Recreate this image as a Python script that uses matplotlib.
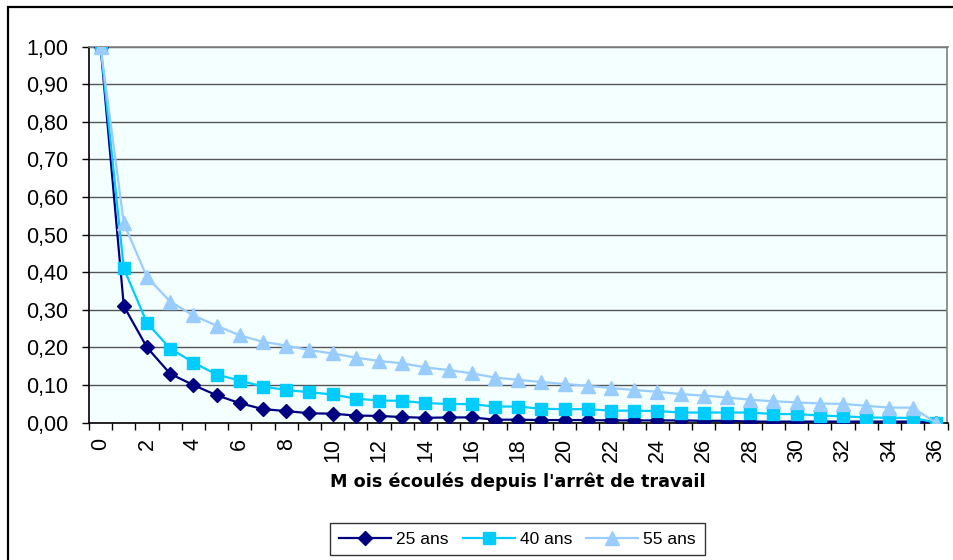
import matplotlib

matplotlib.use("Agg")

import matplotlib.pyplot as plt
from matplotlib.patches import Rectangle
from matplotlib.ticker import FixedLocator, FuncFormatter, NullFormatter

plt.rcParams["font.family"] = ["Liberation Sans", "DejaVu Sans"]

# Months elapsed since work stoppage, and share still off work per age group
mois = list(range(37))
ans_25 = [1.00, 0.31, 0.20, 0.13, 0.10, 0.073, 0.052, 0.036, 0.031, 0.025, 0.024,
          0.019, 0.018, 0.015, 0.013, 0.014, 0.014, 0.008, 0.008, 0.007, 0.007,
          0.007, 0.006, 0.006, 0.006, 0.006, 0.005, 0.005, 0.003, 0.003, 0.003,
          0.003, 0.003, 0.003, 0.003, 0.003, 0.0]
ans_40 = [1.00, 0.41, 0.265, 0.197, 0.16, 0.128, 0.112, 0.096, 0.087, 0.081, 0.075,
          0.064, 0.059, 0.058, 0.052, 0.05, 0.049, 0.043, 0.043, 0.037, 0.036,
          0.036, 0.032, 0.032, 0.031, 0.027, 0.027, 0.027, 0.027, 0.023, 0.023,
          0.019, 0.017, 0.014, 0.013, 0.013, 0.0]
ans_55 = [1.00, 0.53, 0.387, 0.322, 0.285, 0.258, 0.232, 0.215, 0.205, 0.193, 0.184,
          0.173, 0.164, 0.158, 0.147, 0.14, 0.131, 0.12, 0.114, 0.108, 0.103,
          0.098, 0.092, 0.087, 0.082, 0.076, 0.072, 0.067, 0.061, 0.057, 0.054,
          0.051, 0.05, 0.045, 0.04, 0.04, 0.0]
x_labels = [str(m) for m in mois[::2]]

W, H = 954, 560
fig = plt.figure(figsize=(W / 100, H / 100), dpi=100)
fig.patch.set_facecolor("white")

# chart frame (left/top edges visible)
fig.patches.append(Rectangle((8 / W, -0.05), 1.2, 1.05 - 7 / H, transform=fig.transFigure,
                             fill=False, edgecolor="black", linewidth=1.6, clip_on=False))

left, right, top, bottom = 89, 947.5, 46.5, 422.7
ax = fig.add_axes([left / W, 1 - bottom / H, (right - left) / W, (bottom - top) / H])
ax.set_facecolor("#F4FFFF")

ax.plot(mois, ans_25, color="#000080", linewidth=1.6, marker="D", markersize=7.5,
        label="25 ans", zorder=3)
ax.plot(mois, ans_40, color="#00CCFF", linewidth=1.6, marker="s", markersize=8,
        label="40 ans", zorder=4)
ax.plot(mois, ans_55, color="#99CCFF", linewidth=1.6, marker="^", markersize=10,
        label="55 ans", zorder=5)

ax.set_xlim(-0.5, 36.5)
ax.set_ylim(0, 1.0)

# y axis
ax.set_yticks([i / 10 for i in range(11)])
ax.yaxis.set_major_formatter(FuncFormatter(lambda v, _: f"{v:.2f}".replace(".", ",")))
ax.grid(axis="y", color="#555555", linewidth=1.0, zorder=1)
ax.set_axisbelow(True)

# x axis: tick marks between categories, labels on every other category
ax.xaxis.set_major_locator(FixedLocator([m - 0.5 for m in mois] + [36.5]))
ax.xaxis.set_major_formatter(NullFormatter())
ax.xaxis.set_minor_locator(FixedLocator(mois[::2]))
ax.set_xticklabels(x_labels, minor=True, rotation=90)
ax.tick_params(axis="x", which="minor", length=0, pad=11, labelsize=15.5)
ax.tick_params(axis="x", which="major", length=5, width=1, direction="out")
ax.tick_params(axis="y", length=5, width=1, direction="out", pad=10, labelsize=15.5)

for side in ("top", "right"):
    ax.spines[side].set_color("#808080")
    ax.spines[side].set_linewidth(1.2)
for side in ("left", "bottom"):
    ax.spines[side].set_color("black")
    ax.spines[side].set_linewidth(1.2)

fig.text((left + right) / 2 / W, 1 - 482 / H, "M ois écoulés depuis l'arrêt de travail",
         ha="center", va="center", fontsize=12.7, fontweight="bold",
         family=["DejaVu Sans"])

leg = fig.legend(loc="center", bbox_to_anchor=(517.5 / W, 1 - 539 / H), ncol=3,
                 frameon=True, fancybox=False, edgecolor="black", fontsize=12.5,
                 handlelength=3.0, handletextpad=0.3, columnspacing=0.8,
                 borderpad=0.5, borderaxespad=0)
leg.get_frame().set_linewidth(1.0)

fig.savefig("out.png", dpi=100)
